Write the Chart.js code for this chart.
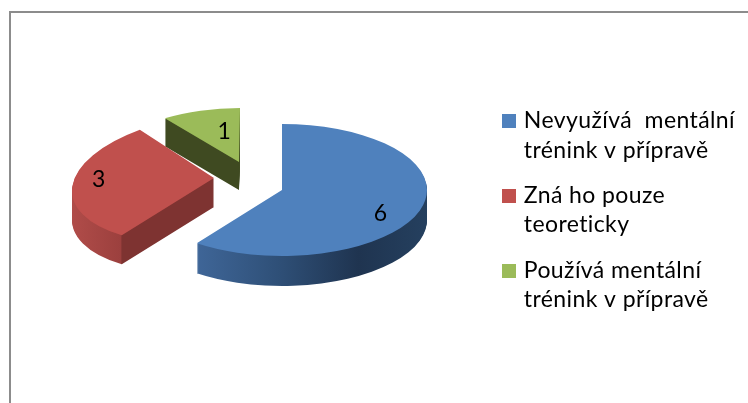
<!DOCTYPE html>
<html><head><meta charset="utf-8">
<style>html,body{margin:0;padding:0;background:#fff}canvas{display:block}</style>
<script src="https://cdn.jsdelivr.net/npm/chart.js@4"></script>
</head><body><canvas id="c" width="748" height="403"></canvas>
<script>
const categories = [["Nevyužívá  mentální","trénink v přípravě"],["Zná ho pouze","teoreticky"],["Používá mentální","trénink v přípravě"]];
const values = [6,3,1];
const topColors = ["#4f81bd","#c0504d","#9bbb59"];
const FONT = "Lato, Carlito, sans-serif";
const views = [
 {m:[1.0,0,0,0.455,282,190],depth:30,x0:196,x1:428,stops:[[0,"#3f6698"],[0.35,"#2f5078"],[0.7,"#1f3450"],[1,"#25405f"]],label:[0.68,0.36]},
 {m:[0.976,-0.077,-0.053,0.449,214,178],depth:29,x0:72,x1:215,stops:[[0,"#b04c49"],[0.34,"#9c403e"],[0.35,"#7e3331"],[1,"#7e3331"]],label:[-0.82,-0.08]},
 {m:[0.88,-0.007,0,0.372,239,162],depth:28,x0:165,x1:240,stops:[[0,"#3f4a21"],[1,"#3f4a21"]],label:[-0.12,-0.56]}
];
const pie3d = {
 id:'pie3d',
 beforeUpdate(chart){ chart.ctx.letterSpacing="0.4px"; },
 beforeDraw(chart){
  const ctx=chart.ctx; ctx.letterSpacing="0.4px"; ctx.save(); ctx.fillStyle="#8c8c8c";
  ctx.fillRect(9,11,739,2); ctx.fillRect(9,11,2,392); ctx.restore();
 },
 beforeDatasetsDraw(chart){
  const ctx=chart.ctx, arcs=chart.getDatasetMeta(0).data;
  [2,1,0].forEach(i=>{
   const arc=arcs[i], v=views[i], [a,b,c,d,tx,ty]=v.m, base=arc.options;
   const n=a*a+b*b;
   const g=ctx.createLinearGradient(arc.x+a*(v.x0-tx)/n,arc.y+b*(v.x0-tx)/n,arc.x+a*(v.x1-tx)/n,arc.y+b*(v.x1-tx)/n);
   v.stops.forEach(s=>g.addColorStop(s[0],s[1]));
   const paint=(dy,fill)=>{
    ctx.save();
    ctx.setTransform(a,c,b,d,tx,ty+dy);
    ctx.translate(-arc.x,-arc.y);
    arc.options=Object.assign({},base,{backgroundColor:fill,borderWidth:0});
    arc.draw(ctx);
    ctx.restore();
   };
   for(let k=v.depth;k>=1;k--) paint(k,g);
   paint(0,topColors[i]);
   arc.options=base;
  });
  ctx.save(); ctx.fillStyle="#000"; ctx.font="23px "+FONT; ctx.textAlign="center"; ctx.textBaseline="middle";
  arcs.forEach((arc,i)=>{
   const v=views[i],[a,b,c,d,tx,ty]=v.m,R=arc.outerRadius,lx=v.label[0]*R,ly=v.label[1]*R;
   ctx.fillText(String(values[i]),a*lx+b*ly+tx,c*lx+d*ly+ty);
  });
  ctx.restore();
  return false;
 },
 afterDraw(chart){
  const ctx=chart.ctx; ctx.save();
  chart.legend.legendHitBoxes.forEach((h,i)=>{ ctx.fillStyle=topColors[i]; ctx.fillRect(Math.round(h.left)-2,Math.round(h.top)+5,14,14); });
  ctx.restore();
 }
};
new Chart(document.getElementById('c'),{
 type:'pie',
 data:{labels:categories,datasets:[{data:values,backgroundColor:topColors,borderWidth:0}]},
 options:{
  responsive:false,animation:false,radius:145,
  layout:{padding:{right:3,top:24,bottom:0}},
  plugins:{
   tooltip:{enabled:false},
   legend:{position:'right',align:'center',labels:{
     boxWidth:8,boxHeight:14,padding:16.5,color:"#000",font:{family:FONT,size:23,lineHeight:1.27},
     generateLabels(chart){
       return Chart.overrides.pie.plugins.legend.labels.generateLabels(chart)
         .map(l=>Object.assign(l,{fillStyle:"rgba(0,0,0,0)",strokeStyle:"rgba(0,0,0,0)",lineWidth:0}));
     }
   }}
  }
 },
 plugins:[pie3d]
});
</script></body></html>
